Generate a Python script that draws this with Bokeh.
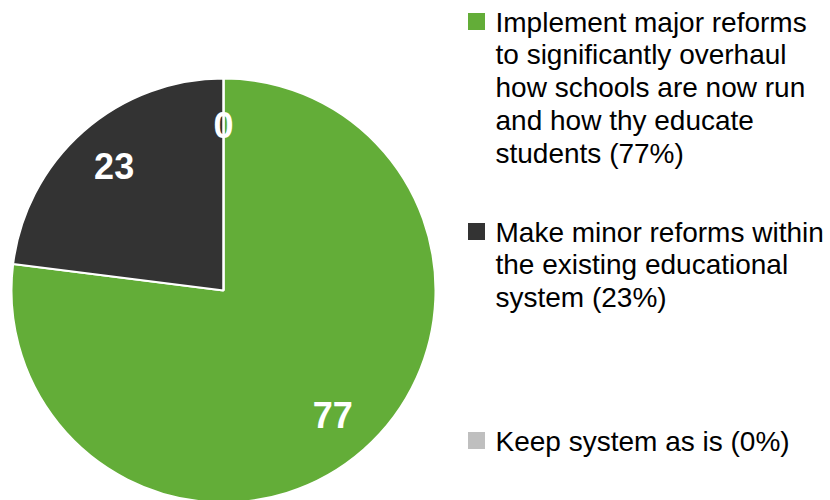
import numpy as np
from bokeh.plotting import figure
from bokeh.models import Range1d, ColumnDataSource
from bokeh.core.properties import value
from bokeh.embed import file_html
from bokeh.resources import INLINE

# ---- data ----
categories = [
    "Implement major reforms\nto significantly overhaul\nhow schools are now run\nand how thy educate\nstudents (77%)",
    "Make minor reforms within\nthe existing educational\nsystem (23%)",
    "Keep system as is (0%)",
]
values = [77, 23, 0]
colors = ["#63AD38", "#333333", "#BFBFBF"]

W, H = 830, 500
p = figure(width=W, height=H, x_range=Range1d(0, W), y_range=Range1d(0, H),
           output_backend="svg", toolbar_location=None, min_border=0)
p.axis.visible = False
p.grid.visible = False
p.outline_line_color = None
p.background_fill_color = "white"
p.border_fill_color = "white"

# pie geometry (data units == pixels, y measured from bottom)
cx, cy, R = 223, H - 290, 212
vals = np.array(values, dtype=float)
frac = vals / vals.sum()
cum = np.concatenate([[0], np.cumsum(frac)])
start = np.pi / 2 - cum[:-1] * 2 * np.pi
end = np.pi / 2 - cum[1:] * 2 * np.pi
mid = (start + end) / 2
nz = vals > 0

wsrc = ColumnDataSource(dict(start=start[nz], end=end[nz],
                             color=[c for c, k in zip(colors, nz) if k]))
p.wedge(x=cx, y=cy, radius=R, start_angle="start", end_angle="end",
        direction="clock", fill_color="color", line_color="white",
        line_width=2, source=wsrc)
# separator for zero-size slice(s)
for a in start[~nz]:
    p.segment(x0=cx, y0=cy, x1=cx + R * np.cos(a), y1=cy + R * np.sin(a),
              line_color="white", line_width=2)

lsrc = ColumnDataSource(dict(label=[str(v) for v in values],
                             lx=cx + 0.78 * R * np.cos(mid),
                             ly=cy + 0.78 * R * np.sin(mid)))
p.text(x="lx", y="ly", text="label", source=lsrc, text_color="white",
       text_font=value("Liberation Sans"), text_font_style="bold",
       text_font_size="36px", text_align="center", text_baseline="middle")

# legend
tops = [6, 216, 425]
leg = ColumnDataSource(dict(
    tx=[495] * 3, ty=[H - t for t in tops], text=categories,
    sx=[476] * 3, sy=[H - (t + 15) for t in tops], color=colors))
p.rect(x="sx", y="sy", width=17, height=17, fill_color="color",
       line_color=None, source=leg)
p.text(x="tx", y="ty", text="text", source=leg, text_color="black",
       text_font=value("Liberation Sans"), text_font_size="28px",
       text_align="left", text_baseline="top", text_line_height=1.06)

open("out.html", "w").write(file_html(p, INLINE))
